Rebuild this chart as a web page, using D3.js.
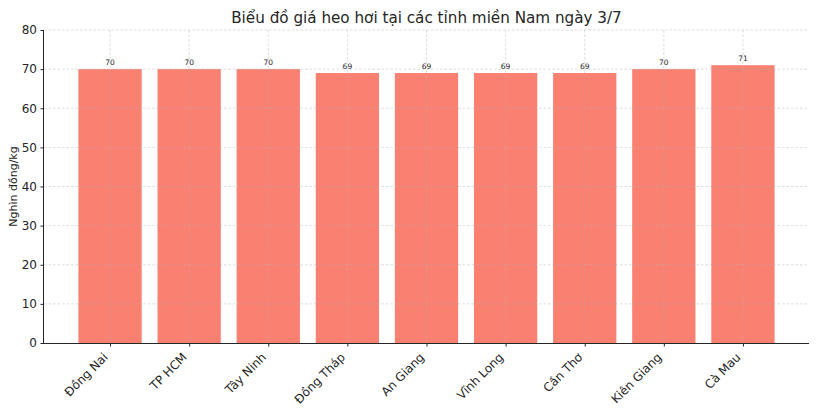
<!DOCTYPE html>
<html>
<head>
<meta charset="utf-8">
<script src="https://cdn.jsdelivr.net/npm/d3@7"></script>
<style>
  body { margin: 0; background: #fff; }
  text { font-family: "DejaVu Sans", sans-serif; fill: #262626; }
  .grid line { stroke: #b0b0b0; stroke-dasharray: 2.5,2; stroke-width: 0.7; opacity: 0.6; }
  .axis path, .axis line { stroke: #262626; }
</style>
</head>
<body>
<div id="chart"></div>
<script>
// Giá heo hơi miền Nam ngày 3/7 (nghìn đồng/kg)
const provinces = ["Đồng Nai", "TP HCM", "Tây Ninh", "Đồng Tháp", "An Giang", "Vĩnh Long", "Cần Thơ", "Kiên Giang", "Cà Mau"];
const prices = [70, 70, 70, 69, 69, 69, 69, 70, 71];
const yTicks = [0, 10, 20, 30, 40, 50, 60, 70, 80];

const W = 820, H = 410;
const margin = { top: 30, right: 11, bottom: 67, left: 44 };
const width = W - margin.left - margin.right;
const height = H - margin.top - margin.bottom;

const svg = d3.select("#chart").append("svg")
  .attr("width", W).attr("height", H)
  .append("g")
  .attr("transform", `translate(${margin.left},${margin.top})`);

// matplotlib-like band: 0.8 bar width, margins around
const n = provinces.length;
const pad = 0.435; // extra space at each end, in bar units
const x = d3.scaleLinear().domain([-0.4 - pad, n - 1 + 0.4 + pad]).range([0, width]);
const y = d3.scaleLinear().domain([0, 80]).range([height, 0]);

// Bars
svg.selectAll("rect.bar").data(prices).join("rect")
  .attr("class", "bar")
  .attr("x", (d, i) => x(i - 0.4))
  .attr("width", x(0.8) - x(0))
  .attr("y", d => y(d))
  .attr("height", d => y(0) - y(d))
  .attr("fill", "#fa8072");

// Grid on top, faint
const grid = svg.append("g").attr("class", "grid");
grid.selectAll("line.h").data(yTicks.slice(1)).join("line")
  .attr("class", "h")
  .attr("x1", 0).attr("x2", width)
  .attr("y1", d => y(d)).attr("y2", d => y(d));
grid.selectAll("line.v").data(provinces).join("line")
  .attr("class", "v")
  .attr("x1", (d, i) => x(i)).attr("x2", (d, i) => x(i))
  .attr("y1", 0).attr("y2", height);

// Value labels
svg.selectAll("text.val").data(prices).join("text")
  .attr("class", "val")
  .attr("x", (d, i) => x(i))
  .attr("y", d => y(d) - 4)
  .attr("text-anchor", "middle")
  .style("font-size", "7.5px")
  .text(d => d);

// Axes
const yAxis = d3.axisLeft(y).tickValues(yTicks).tickSize(3.5).tickPadding(3.5);
const yG = svg.append("g").attr("class", "axis").call(yAxis);
yG.selectAll("text").style("font-size", "12px");

const xAxis = d3.axisBottom(x).tickValues(d3.range(n)).tickFormat(i => provinces[i]).tickSize(3.5).tickSizeOuter(0);
const xG = svg.append("g").attr("class", "axis")
  .attr("transform", `translate(0,${height})`).call(xAxis);
xG.select(".domain").attr("d", `M0,0.5H${width}`);
xG.selectAll("text")
  .style("font-size", "12px")
  .style("text-anchor", "end")
  .attr("x", 0).attr("y", 0).attr("dy", 0)
  .attr("transform", "translate(-2,15) rotate(-45)");
yG.select(".domain").attr("d", `M-0.5,0V${height}`);

// Title
svg.append("text")
  .attr("x", width / 2)
  .attr("y", -7)
  .attr("text-anchor", "middle")
  .style("font-size", "15.2px")
  .text("Biểu đồ giá heo hơi tại các tỉnh miền Nam ngày 3/7");

// Y label
svg.append("text")
  .attr("transform", `translate(${-27},${height / 2}) rotate(-90)`)
  .attr("text-anchor", "middle")
  .style("font-size", "11px")
  .text("Nghìn đồng/kg");
</script>
</body>
</html>
